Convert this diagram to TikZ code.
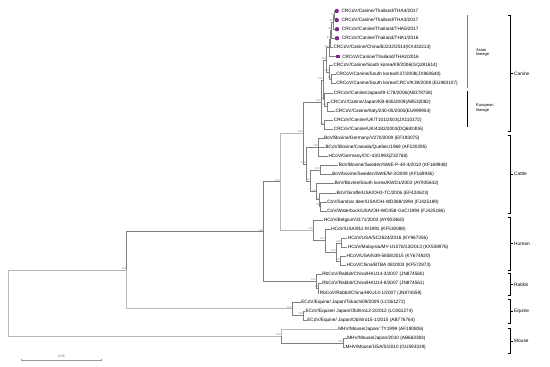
\documentclass[tikz,border=0pt]{standalone}
\usepackage{fontspec}
\setmainfont{Liberation Sans}
\definecolor{mk}{RGB}{128,38,140}
\begin{document}
\begin{tikzpicture}[x=1pt,y=-1pt,
  lf/.style={anchor=west, inner sep=0.4pt, font=\fontsize{4.7}{5}\selectfont},
  br/.style={draw=black!50, line width=0.5pt},
  brl/.style={draw=black!28, line width=0.6pt},
  bs/.style={anchor=south east, inner sep=0.3pt, font=\fontsize{2.6}{3}\selectfont, text=black!55},
  dot/.style={circle, fill=mk, inner sep=0pt, minimum size=4.4pt},
  sq/.style={rectangle, fill=mk, inner sep=0pt, minimum size=3.8pt},
  grp/.style={anchor=west, inner sep=0.5pt, font=\fontsize{4.8}{5}\selectfont},
  lin/.style={anchor=west, align=left, inner sep=0pt, font=\fontsize{4}{4.8}\selectfont},
  bk/.style={draw=black, line width=0.6pt}]
\useasboundingbox (0,0) rectangle (550,367);

% ---------- internal nodes ----------
\coordinate (TH5) at (334.3,15.55);
\coordinate (TH4) at (333,22.37);
\coordinate (TH3) at (331.7,30.32);
\coordinate (TH2) at (330.3,38.84);
\coordinate (TH)  at (329.3,47.65);
\coordinate (KO2) at (331.5,79.18);
\coordinate (KO)  at (329.3,72.36);
\coordinate (AS)  at (326.5,60.0);
\coordinate (JK)  at (327.3,106.45);
\coordinate (W)   at (324.5,99.63);
\coordinate (Z)   at (323,79.8);
\coordinate (UK)  at (324,124.63);
\coordinate (CAN) at (321,102.2);
\coordinate (F)   at (318.3,147.35);
\coordinate (H)   at (320,170.08);
\coordinate (K)   at (320.7,206.43);
\coordinate (J)   at (319.3,199.6);
\coordinate (I)   at (316,191.66);
\coordinate (G)   at (310,180.87);
\coordinate (CT)  at (306,164.11);
\coordinate (D)   at (303,133.16);
\coordinate (H4)  at (341,242.8);
\coordinate (H5)  at (340,260.98);
\coordinate (H3)  at (336,251.89);
\coordinate (H2)  at (325,240.52);
\coordinate (H1)  at (313.3,230.3);
\coordinate (C)   at (280,181.73);
\coordinate (Rb2) at (318.3,288.25);
\coordinate (Rb)  at (316,281.43);
\coordinate (B)   at (263.3,231.58);
\coordinate (Eq2) at (303.3,315.52);
\coordinate (Eq)  at (292,308.7);
\coordinate (A)   at (126.7,270.14);
\coordinate (M2)  at (343.3,342.79);
\coordinate (M)   at (281,335.97);
\coordinate (R)   at (8.3,303.05);

% ---------- leaves ----------
\node[dot] (m0) at (336.7,11.00) {};
\node[lf] (l0) at (341,11.00) {CRCoV/Canine/Thailand/THA4/2017};
\node[dot] (m1) at (336.7,20.09) {};
\node[lf] (l1) at (341,20.09) {CRCoV/Canine/Thailand/THA3/2017};
\node[dot] (m2) at (337,29.18) {};
\node[lf] (l2) at (341.3,29.18) {CRCoV/Canine/Thailand/THA5/2017};
\node[dot] (m3) at (337,38.27) {};
\node[lf] (l3) at (341.3,38.27) {CRCoV/Canine/Thailand/THA1/2016};
\node[lf] (l4) at (333,47.36) {CRCoV/Canine/China/BJ232/2014(KX432213)};
\node[sq] (m5) at (337.7,56.45) {};
\node[lf] (l5) at (341.7,56.45) {CRCoV/Canine/Thailand/THA2/2016};
\node[lf] (l6) at (333,65.54) {CRCoV/Canine/South korea/K9/2006(GQ281614)};
\node[lf] (l7) at (335.7,74.63) {CRCoV/Canine/South korea/K37/2008(JX860640)};
\node[lf] (l8) at (335.7,83.72) {CRCoV/Canine/South korea/CRCV/K39/2008 (EU983107)};
\node[lf] (l9) at (333.3,92.81) {CRCoV/Canine/Japan/I9-C78/2006(AB378708)};
\node[lf] (l10) at (330,101.90) {CRCoV/Canine/Japan/KB-806/2009(AB532082)};
\node[lf] (l11) at (335,110.99) {CRCoV/Canine/Italy/240-05/2005(EU999954)};
\node[lf] (l12) at (333.3,120.08) {CRCoV/Canine/UK/T101/2003(JX110372)};
\node[lf] (l13) at (333.3,129.17) {CRCoV/Canine/UK/4182/2003(DQ682406)};
\node[lf] (l14) at (323.5,138.26) {BoV/Bovine/Germany/V270/2009 (EF193075)};
\node[lf] (l15) at (325,147.35) {BCoV/Bovine/Canada/Quebec/1969 (AF220295)};
\node[lf] (l16) at (328,156.44) {HCoV/Germany/OC-43/1993(Z32768)};
\node[lf] (l17) at (338.3,165.53) {BoV/Bovine/Sweden/SWE-P-40-4/2010 (KF169948)};
\node[lf] (l18) at (331.7,174.62) {BoV/bovine/Sweden/SWE/M-3/2009 (KF169936)};
\node[lf] (l19) at (334,183.71) {BoV/Bovine/South korea/KWD1/2003 (AY935642)};
\node[lf] (l20) at (336,192.80) {BoV/Giraffe/USA/OH3-TC/2006 (EF424623)};
\node[lf] (l21) at (326.7,201.89) {CoV/Sambar deer/USA/OH-WD388/1994 (FJ425189)};
\node[lf] (l22) at (326.7,210.98) {CoV/Waterbuck/USA/OH-WD358-GnC/1994 (FJ425186)};
\node[lf] (l23) at (323.3,220.07) {HCoV/Belgium/3171/2003 (AY903460)};
\node[lf] (l24) at (330.7,229.16) {HCoV/USA/911-9/1991 (KF530088)};
\node[lf] (l25) at (347.3,238.25) {HCoV/USA/SC2624/2016 (KY967356)};
\node[lf] (l26) at (347.3,247.34) {HCoV/Malaysia/MY-U1076/13/2013 (KX538976)};
\node[lf] (l27) at (346,256.43) {HCoV/USA/N39-5858/2015 (KY674920)};
\node[lf] (l28) at (346,265.52) {HCoV/China/BTBA 08/2003 (KF572873)};
\node[lf] (l29) at (321.7,274.61) {RbCoV/Rabbit/China/HKU14-3/2007 (JN874560)};
\node[lf] (l30) at (321.7,283.70) {RbCoV/Rabbit/China/HKU14-8/2007 (JN874561)};
\node[lf] (l31) at (319.3,292.79) {RbCoV/Rabbit/China/HKU14-1/2007 (JN874559)};
\node[lf] (l32) at (300.7,301.88) {ECoV/Equine/ Japan/Tokachi09/2009 (LC061272)};
\node[lf] (l33) at (305,310.97) {ECoV/Equine/ Japan/Obihiro12-2/2012 (LC061274)};
\node[lf] (l34) at (306.7,320.06) {ECoV/Equine/ Japan/Obihiro15-1/2015 (AB776764)};
\node[lf] (l35) at (337.7,329.15) {MHV/Mouse/Japan/ TY1999 (AF190806)};
\node[lf] (l36) at (346.7,338.24) {MHV/Mouse/Japan/2010 (AB663383)};
\node[lf] (l37) at (345,347.33) {MHV/Mouse/USA/S/2010 (GU593319)};

% ---------- branches ----------
\draw[brl] (R) |- (A);
\draw[brl] (R) |- (M);
\draw[brl] (A) |- (Eq);
\draw[br] (A) |- (B);
\draw[br] (B) |- (C);
\draw[br] (B) |- (Rb);
\draw[brl] (C) |- (D);
\draw[brl] (C) |- (H1);
\draw[br] (D) |- (CAN);
\draw[br] (D) |- (CT);
\draw[br] (CAN) |- (Z);
\draw[br] (CAN) |- (UK);
\draw[br] (Z) |- (AS);
\draw[br] (Z) |- (W);
\draw[br] (AS) |- (TH);
\draw[br] (AS) |- (KO);
\draw[br] (TH) |- (TH2);
\draw[br] (TH) |- (m5.west);
\draw[br] (TH2) |- (TH3);
\draw[br] (TH2) |- (l4.west);
\draw[br] (TH3) |- (TH4);
\draw[br] (TH3) |- (m3.west);
\draw[br] (TH4) |- (TH5);
\draw[br] (TH4) |- (m2.west);
\draw[br] (TH5) |- (m0.west);
\draw[br] (TH5) |- (m1.west);
\draw[br] (KO) |- (l6.west);
\draw[br] (KO) |- (KO2);
\draw[br] (KO2) |- (l7.west);
\draw[br] (KO2) |- (l8.west);
\draw[br] (W) |- (l9.west);
\draw[br] (W) |- (JK);
\draw[br] (JK) |- (l10.west);
\draw[br] (JK) |- (l11.west);
\draw[br] (UK) |- (l12.west);
\draw[br] (UK) |- (l13.west);
\draw[br] (CT) |- (F);
\draw[br] (CT) |- (G);
\draw[br] (F) |- (l14.west);
\draw[br] (F) |- (l15.west);
\draw[br] (F) |- (l16.west);
\draw[br] (G) |- (H);
\draw[br] (G) |- (I);
\draw[br] (H) |- (l17.west);
\draw[br] (H) |- (l18.west);
\draw[br] (I) |- (l19.west);
\draw[br] (I) |- (J);
\draw[br] (J) |- (l20.west);
\draw[br] (J) |- (K);
\draw[br] (K) |- (l21.west);
\draw[br] (K) |- (l22.west);
\draw[br] (H1) |- (l23.west);
\draw[br] (H1) |- (H2);
\draw[br] (H2) |- (l24.west);
\draw[br] (H2) |- (H3);
\draw[br] (H3) |- (H4);
\draw[br] (H3) |- (H5);
\draw[br] (H4) |- (l25.west);
\draw[br] (H4) |- (l26.west);
\draw[br] (H5) |- (l27.west);
\draw[br] (H5) |- (l28.west);
\draw[br] (Rb) |- (l29.west);
\draw[br] (Rb) |- (Rb2);
\draw[br] (Rb2) |- (l30.west);
\draw[br] (Rb2) |- (l31.west);
\draw[br] (Eq) |- (l32.west);
\draw[br] (Eq) |- (Eq2);
\draw[br] (Eq2) |- (l33.west);
\draw[br] (Eq2) |- (l34.west);
\draw[brl] (M) |- (l35.west);
\draw[br] (M) |- (M2);
\draw[br] (M2) |- (l36.west);
\draw[br] (M2) |- (l37.west);

% ---------- bootstrap values ----------
\node[bs] (bTH5) at (TH5) {76};
\node[bs] (bTH4) at (TH4) {62};
\node[bs] (bTH3) at (TH3) {99};
\node[bs] (bTH2) at (TH2) {87};
\node[bs] (bTH) at (TH) {100};
\node[bs] (bKO2) at (KO2) {99};
\node[bs] (bKO) at (KO) {100};
\node[bs] (bAS) at (AS) {100};
\node[bs] (bJK) at (JK) {100};
\node[bs] (bW) at (W) {96};
\node[bs] (bZ) at (Z) {100};
\node[bs] (bUK) at (UK) {99};
\node[bs] (bCAN) at (CAN) {100};
\node[bs] (bD) at (D) {100};
\node[bs] (bCT) at (CT) {100};
\node[bs] (bF) at (F) {100};
\node[bs] (bG) at (G) {91};
\node[bs] (bH) at (H) {100};
\node[bs] (bI) at (I) {92};
\node[bs] (bJ) at (J) {99};
\node[bs] (bK) at (K) {100};
\node[bs] (bH1) at (H1) {100};
\node[bs] (bH2) at (H2) {100};
\node[bs] (bH3) at (H3) {100};
\node[bs] (bH4) at (H4) {100};
\node[bs] (bH5) at (H5) {75};
\node[bs] (bC) at (C) {100};
\node[bs] (bRb) at (Rb) {100};
\node[bs] (bRb2) at (Rb2) {97};
\node[bs] (bB) at (B) {100};
\node[bs] (bEq) at (Eq) {100};
\node[bs] (bEq2) at (Eq2) {100};
\node[bs] (bA) at (A) {100};
\node[bs] (bM) at (M) {100};
\node[bs] (bM2) at (M2) {100};

% ---------- lineage bars ----------
\draw[draw=black!50, line width=1.3pt] (467.3,15) -- (467.3,88.3);
\draw[bk] (467.3,91) -- (467.3,126.7);
\node[lin] (asian) at (476,52.5) {Asian\\lineage};
\node[lin] (euro) at (476,108) {European\\lineage};

% ---------- host brackets ----------
\draw[bk] (508,15) -- (510.7,15) -- (510.7,131.7) -- (508,131.7);
\draw[bk] (510.7,73.3) -- (513,73.3);
\node[grp] (gCan) at (513.5,73.3) {Canine};
\draw[bk] (508,135) -- (510.7,135) -- (510.7,213.3) -- (508,213.3);
\draw[bk] (510.7,174.2) -- (513,174.2);
\node[grp] (gCat) at (513.5,174.2) {Cattle};
\draw[bk] (508,217) -- (510.7,217) -- (510.7,270) -- (508,270);
\draw[bk] (510.7,243.5) -- (513,243.5);
\node[grp] (gHum) at (513.5,243.5) {Human};
\draw[bk] (508,273) -- (510.7,273) -- (510.7,295.7) -- (508,295.7);
\draw[bk] (510.7,284.3) -- (513,284.3);
\node[grp] (gRab) at (513.5,284.3) {Rabbit};
\draw[bk] (508,299) -- (510.7,299) -- (510.7,323.3) -- (508,323.3);
\draw[bk] (510.7,311.2) -- (513,311.2);
\node[grp] (gEqu) at (513.5,311.2) {Equine};
\draw[bk] (508,328.3) -- (510.7,328.3) -- (510.7,353.3) -- (508,353.3);
\draw[bk] (510.7,340.8) -- (513,340.8);
\node[grp] (gMou) at (513.5,340.8) {Mouse};

% ---------- scale bar ----------
\draw[draw=black!40, line width=0.5pt] (21,360) -- (101.7,360);
\draw[draw=black!40, line width=0.5pt] (21,358.8) -- (21,361.2);
\draw[draw=black!40, line width=0.5pt] (101.7,358.8) -- (101.7,361.2);
\node[anchor=south, inner sep=0.5pt, font=\fontsize{3.4}{4}\selectfont, text=black!60] (scl) at (61.4,358.6) {0.05};
\end{tikzpicture}
\end{document}
